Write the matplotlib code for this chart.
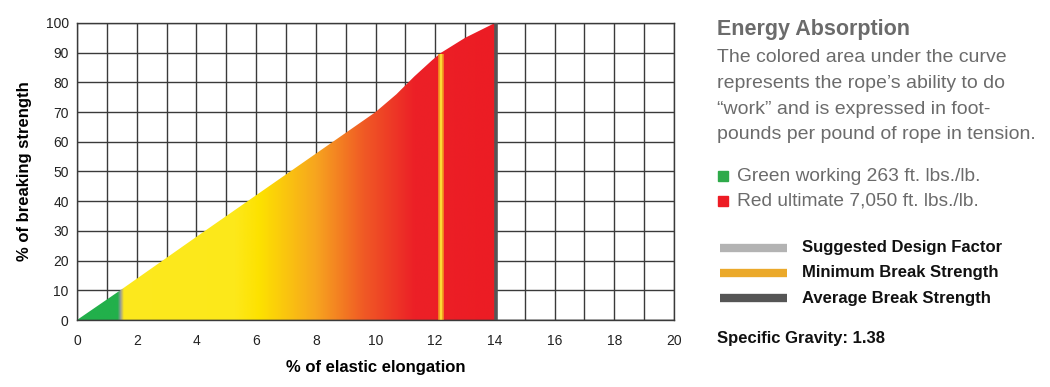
import numpy as np
import matplotlib
matplotlib.use("Agg")
import matplotlib.pyplot as plt
from matplotlib.colors import LinearSegmentedColormap

plt.rcParams['font.family'] = ['Liberation Sans', 'DejaVu Sans']

# curve: % elongation vs % of breaking strength
elong = [0, 1.45, 4.0, 6.0, 8.0, 10.0, 10.7, 11.3, 11.9, 12.2, 13.0, 14.0]
strength = [0, 10, 28, 42, 56, 70, 76, 82, 87.5, 90, 95, 100]

design_factor_x = 1.45   # suggested design factor (end of green)
min_break_x = 12.2       # minimum break strength
avg_break_x = 14.0       # average break strength

x_ticks = [0, 2, 4, 6, 8, 10, 12, 14, 16, 18, 20]
y_ticks = [0, 10, 20, 30, 40, 50, 60, 70, 80, 90, 100]

title = "Energy Absorption"
body = ["The colored area under the curve",
        "represents the rope\u2019s ability to do",
        "\u201cwork\u201d and is expressed in foot-",
        "pounds per pound of rope in tension."]
energy_labels = ["Green working 263 ft. lbs./lb.", "Red ultimate 7,050 ft. lbs./lb."]
energy_colors = ["#2eaa4a", "#ed1c24"]
line_labels = ["Suggested Design Factor", "Minimum Break Strength", "Average Break Strength"]
line_colors = ["#b3b3b3", "#eba92a", "#555555"]
gravity = "Specific Gravity: 1.38"

W, H = 1050, 387
fig = plt.figure(figsize=(W / 100, H / 100), dpi=100)
ax = fig.add_axes([77 / W, 1 - 320 / H, (674 - 77) / W, (320 - 23) / H])
ax.set_xlim(0, 20)
ax.set_ylim(0, 100)

# grid
ax.set_xticks(x_ticks)
ax.set_xticks(np.arange(0, 21, 1), minor=True)
ax.set_yticks(y_ticks)
ax.grid(True, which='both', color='#3a3a3a', linewidth=1.0, zorder=0)
ax.tick_params(which='both', length=0, labelsize=10, colors='#222222')
ax.tick_params(axis='x', pad=10)
ax.tick_params(axis='y', pad=6)
for s in ax.spines.values():
    s.set_color('#3a3a3a')
    s.set_linewidth(1.0)
ax.set_axisbelow(True)

# gradient fill under curve
stops = [(0.0, '#22b04b'), (1.36 / 14, '#22b04b'), (1.45 / 14, '#9a9a9a'),
         (1.56 / 14, '#fce91e'), (5.3 / 14, '#fde81a'), (6.1 / 14, '#fde200'),
         (8.0 / 14, '#f7a51f'), (9.6 / 14, '#f05a25'), (11.3 / 14, '#ec2027'),
         (1.0, '#ec1c24')]
cmap = LinearSegmentedColormap.from_list('rope', stops, N=1024)
grad = np.linspace(0, 1, 1400).reshape(1, -1)
poly = ax.fill_between(elong, strength, 0, color='none', lw=0, zorder=2)
img = ax.imshow(grad, cmap=cmap, aspect='auto', extent=[0, 14, 0, 100],
                origin='lower', zorder=2, interpolation='bilinear')
img.set_clip_path(poly.get_paths()[0], transform=ax.transData)

# vertical marker lines
y_min = np.interp(min_break_x, elong, strength)
ax.plot([min_break_x, min_break_x], [0, y_min - 0.5], color='#f39a1f', lw=4.0,
        solid_capstyle='butt', zorder=3)
ax.plot([min_break_x, min_break_x], [0, y_min - 0.5], color='#fcd836', lw=1.6,
        solid_capstyle='butt', zorder=4)
ax.plot([avg_break_x + 0.03, avg_break_x + 0.03], [0, 100], color='#555555', lw=2.6,
        solid_capstyle='butt', zorder=4)
ax.axhline(0, color='#3a3a3a', lw=1.0, zorder=5)

ax.set_xlabel("% of elastic elongation", fontsize=12, fontweight='bold', labelpad=9)
ax.set_ylabel("% of breaking strength", fontsize=12, fontweight='bold', labelpad=10)

# right-hand text panel
def fx(px):
    return px / W

def fy(py):
    return 1 - py / H

fig.text(fx(717), fy(30), title, fontsize=15.5, fontweight='bold', color='#6b6b6b', va='center')
for i, line in enumerate(body):
    fig.text(fx(717), fy(57 + 26 * i), line, fontsize=14, color='#6b6b6b', va='center')
for i, (lab, col) in enumerate(zip(energy_labels, energy_colors)):
    y = 176 + 25 * i
    fig.patches.append(plt.Rectangle((fx(718), fy(y + 5)), 10 / W, 10 / H,
                                     transform=fig.transFigure, color=col))
    fig.text(fx(737), fy(y), lab, fontsize=13.8, color='#6b6b6b', va='center')
for i, (lab, col) in enumerate(zip(line_labels, line_colors)):
    y = 248 + 25 * i
    fig.lines.append(plt.Line2D([fx(720), fx(787)], [fy(y), fy(y)], transform=fig.transFigure,
                                color=col, lw=6, solid_capstyle='butt'))
    fig.text(fx(802), fy(y), lab, fontsize=12, fontweight='bold', color='#111111', va='center')
fig.text(fx(717), fy(338), gravity, fontsize=12, fontweight='bold', color='#111111', va='center')

fig.savefig("out.png", dpi=100)
